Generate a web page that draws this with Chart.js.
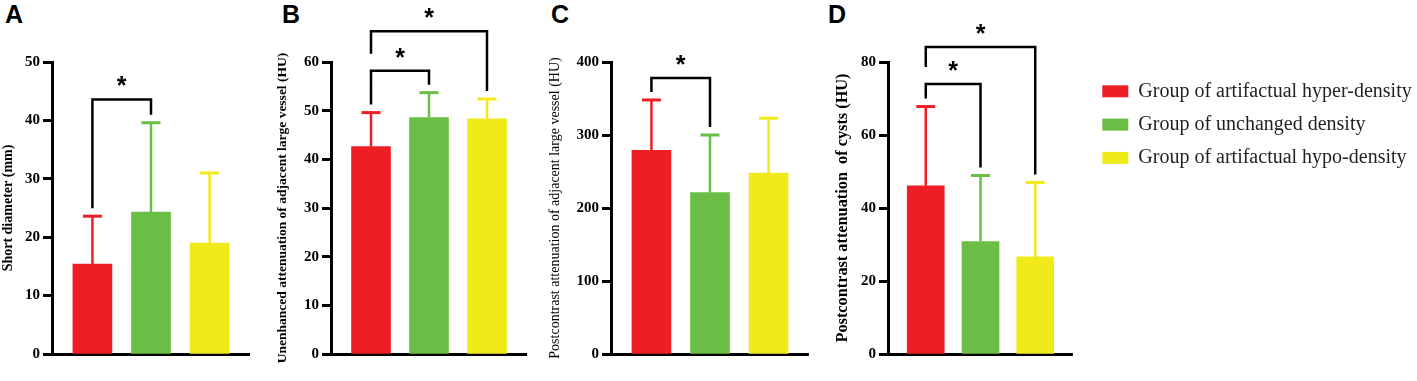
<!DOCTYPE html>
<html>
<head>
<meta charset="utf-8">
<script src="https://cdn.jsdelivr.net/npm/chart.js@4.4.0/dist/chart.umd.min.js"></script>
<style>
  body { margin: 0; background: #fff; width: 1417px; height: 381px; position: relative; overflow: hidden; }
  canvas { position: absolute; top: 0; }
  .tag { position: absolute; top: -1px; font: bold 25px "Liberation Sans", Arial, sans-serif; color: #000; line-height: 30px; }
</style>
</head>
<body>
<div class="tag" style="left:5px">A</div>
<div class="tag" style="left:282px">B</div>
<div class="tag" style="left:551px">C</div>
<div class="tag" style="left:828px">D</div>
<canvas id="chartA" width="250" height="381" style="left:0px"></canvas>
<canvas id="chartB" width="257" height="381" style="left:270px"></canvas>
<canvas id="chartC" width="269" height="381" style="left:540px"></canvas>
<canvas id="chartD" width="253" height="381" style="left:820px"></canvas>
<canvas id="legendBox" width="328" height="250" style="left:1089px;top:68px"></canvas>
<script>
// groups and colours
const groups = ['Group of artifactual hyper-density', 'Group of unchanged density', 'Group of artifactual hypo-density'];
const colors = ['#ED1F24', '#6BBE45', '#F1EA1B'];

// means and SD (upper error only)
const meanA = [15.4, 24.3, 19.0];
const sdA = [8.2, 15.3, 12.0];
const meanB = [42.6, 48.6, 48.3];
const sdB = [7.0, 5.1, 4.1];
const meanC = [279, 221, 248];
const sdC = [69, 79, 75];
const meanD = [46.1, 30.8, 26.6];
const sdD = [21.7, 18.1, 20.4];

// significance brackets: [from group, to group, level]
const sigA = [[0, 1, 43.6]];
const sigB = [[0, 1, 58.2], [0, 2, 66.3]];
const sigC = [[0, 1, 378]];
const sigD = [[0, 1, 74.0], [0, 2, 84.1]];

const serif = '"Liberation Serif", "Times New Roman", serif';
const sans = '"Liberation Sans", Arial, sans-serif';

function panel(id, yTitle, titleFont, titleShift, axisW, yMax, step, means, sds, sig, barW) {
  const marks = {
    id: 'marks_' + id,
    afterDatasetsDraw(chart) {
      const ctx = chart.ctx;
      const x = chart.scales.x, y = chart.scales.y;
      ctx.save();
      // error bars (upper only)
      means.forEach((m, i) => {
        const px = x.getPixelForValue(i);
        const y0 = y.getPixelForValue(m);
        const y1 = y.getPixelForValue(m + sds[i]);
        ctx.strokeStyle = colors[i];
        ctx.lineWidth = 2.5;
        ctx.beginPath(); ctx.moveTo(px, y0); ctx.lineTo(px, y1); ctx.stroke();
        ctx.lineWidth = 3;
        ctx.beginPath(); ctx.moveTo(px - 9.5, y1); ctx.lineTo(px + 9.5, y1); ctx.stroke();
      });
      // brackets with stars
      ctx.strokeStyle = '#000';
      ctx.fillStyle = '#000';
      ctx.lineWidth = 2.5;
      ctx.lineJoin = 'miter';
      sig.forEach(([a, b, lvl]) => {
        const top = y.getPixelForValue(lvl);
        const legEnd = (i) => {
          let end = y.getPixelForValue(means[i] + sds[i]) - 8;
          sig.forEach(([a2, b2, l2]) => {
            if (l2 < lvl && (a2 === i || b2 === i)) end = Math.min(end, y.getPixelForValue(l2) - 17);
          });
          return end;
        };
        const xa = x.getPixelForValue(a), xb = x.getPixelForValue(b);
        ctx.beginPath();
        ctx.moveTo(xa, legEnd(a));
        ctx.lineTo(xa, top);
        ctx.lineTo(xb, top);
        ctx.lineTo(xb, legEnd(b));
        ctx.stroke();
        ctx.font = 'bold 25px ' + sans;
        ctx.textAlign = 'center';
        ctx.textBaseline = 'alphabetic';
        ctx.fillText('*', (xa + xb) / 2, top - 17 + 12);
      });
      ctx.restore();
    }
  };

  return new Chart(document.getElementById(id), {
    type: 'bar',
    data: {
      datasets: groups.map((g, i) => ({
        label: g,
        data: [{ x: i, y: means[i] }],
        backgroundColor: colors[i],
        barThickness: barW,
        grouped: false
      }))
    },
    options: {
      responsive: false,
      animation: false,
      events: [],
      layout: { padding: { top: 62, left: 0, right: 0, bottom: 27 } },
      scales: {
        x: {
          type: 'linear', min: -0.69, max: 2.69, offset: false,
          ticks: { display: false },
          grid: { display: false },
          border: { color: '#000', width: 3 },
          afterFit(s) { s.height = 0; }
        },
        y: {
          min: 0, max: yMax,
          ticks: { stepSize: step, color: '#000', padding: 3, font: { family: serif, size: 15, weight: 'bold' } },
          grid: { drawOnChartArea: false, tickLength: 9, tickWidth: 3, tickColor: '#000' },
          border: { color: '#000', width: 3 },
          title: {
            display: true, text: yTitle, color: '#000',
            font: Object.assign({ family: serif, lineHeight: 1 }, titleFont),
            padding: { top: titleShift - titleFont.size / 2, bottom: 0 }
          },
          afterFit(s) { s.width = axisW; }
        }
      },
      plugins: {
        legend: { display: false },
        tooltip: { enabled: false }
      }
    },
    plugins: [marks]
  });
}

panel('chartA', 'Short diameter (mm)', { size: 14, weight: 'bold' }, 8.5, 52, 50, 10, meanA, sdA, sigA, 39);
panel('chartB', 'Unenhanced attenuation of adjacent large vessel (HU)', { size: 13.5, weight: 'bold' }, 12.5, 61, 60, 10, meanB, sdB, sigB, 39);
panel('chartC', 'Postcontrast attenuation of adjacent large vessel (HU)', { size: 14, weight: 'normal' }, 15.5, 71, 400, 100, meanC, sdC, sigC, 39);
panel('chartD', 'Postcontrast attenuation  of cysts (HU)', { size: 16.3, weight: 'bold' }, 22.5, 68, 80, 20, meanD, sdD, sigD, 37);

// legend drawn by Chart.js in its own canvas
new Chart(document.getElementById('legendBox'), {
  type: 'bar',
  data: { labels: [], datasets: groups.map((g, i) => ({ label: g, data: [], backgroundColor: colors[i] })) },
  options: {
    responsive: false,
    animation: false,
    events: [],
    scales: { x: { display: false }, y: { display: false } },
    plugins: {
      tooltip: { enabled: false },
      legend: {
        position: 'top', align: 'start',
        labels: { boxWidth: 26, boxHeight: 12, padding: 13.3, color: '#231f20', font: { family: serif, size: 20 } }
      }
    }
  }
});
</script>
</body>
</html>
